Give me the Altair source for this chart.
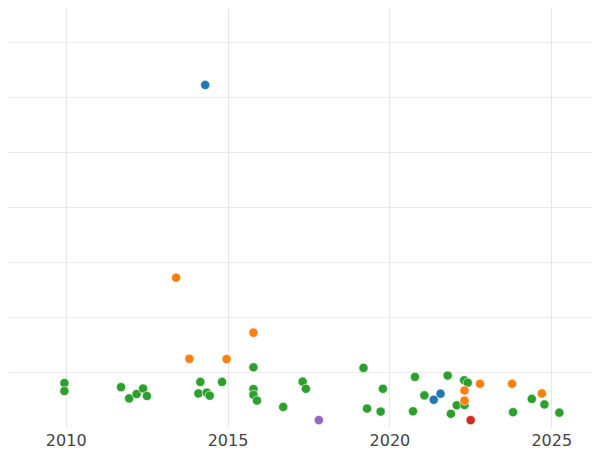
import altair as alt
import pandas as pd

# Year (x) and value (y) for each point, with its group
green_years = [2009.96, 2009.96, 2011.71, 2011.96, 2012.19, 2012.39, 2012.51,
               2014.16, 2014.10, 2014.36, 2014.45, 2014.83, 2015.80, 2015.80,
               2015.80, 2015.91, 2016.72, 2017.32, 2017.42, 2019.20, 2019.31,
               2019.73, 2019.80, 2020.79, 2020.73, 2021.08, 2021.80, 2022.31,
               2022.42, 2022.08, 2022.32, 2021.90, 2023.82, 2024.40, 2024.79,
               2025.25]
green_values = [16.0, 13.1, 14.5, 10.4, 12.0, 14.0, 11.3,
                16.4, 12.2, 12.5, 11.4, 16.4, 21.7, 13.8,
                11.7, 9.6, 7.3, 16.5, 13.9, 21.5, 6.7,
                5.6, 13.9, 18.2, 5.7, 11.5, 18.7, 17.0,
                16.1, 7.9, 8.0, 4.8, 5.4, 10.2, 8.2,
                5.2]

orange_years = [2013.41, 2013.82, 2014.97, 2015.80, 2022.80, 2022.32, 2022.32,
                2023.79, 2024.71]
orange_values = [54.3, 24.8, 24.7, 34.3, 15.7, 13.3, 9.6, 15.7, 12.2]

blue_years = [2014.31, 2021.58, 2021.37]
blue_values = [124.4, 12.1, 9.9]

red_years = [2022.51]
red_values = [2.5]

purple_years = [2017.82]
purple_values = [2.5]

groups = ["blue", "orange", "green", "red", "purple"]
group_colors = ["#1f77b4", "#ff7f0e", "#2ca02c", "#d62728", "#9467bd"]

x_ticks = [2010, 2015, 2020, 2025]
y_grid = [20, 40, 60, 80, 100, 120, 140]

rows = []
for name, ys, vs in [("green", green_years, green_values),
                     ("orange", orange_years, orange_values),
                     ("blue", blue_years, blue_values),
                     ("red", red_years, red_values),
                     ("purple", purple_years, purple_values)]:
    for yr, v in zip(ys, vs):
        rows.append({"year": yr, "value": v, "group": name})
df = pd.DataFrame(rows)

chart = alt.Chart(df).mark_circle(
    size=85, opacity=1, stroke="white", strokeWidth=0.6
).encode(
    x=alt.X("year:Q",
            scale=alt.Scale(domain=[2008.2175, 2026.259], nice=False, zero=False),
            axis=alt.Axis(values=x_ticks, format="d", title=None, ticks=False,
                          tickSize=0, domain=False, labelFontSize=16,
                          labelColor="#444444", labelFont="DejaVu Sans",
                          labelPadding=5, gridColor="#e8e8e8", gridWidth=1.2)),
    y=alt.Y("value:Q",
            scale=alt.Scale(domain=[0, 152.4], nice=False, zero=False),
            axis=alt.Axis(values=y_grid, labels=False, ticks=False, domain=False,
                          title=None, gridColor="#ebebeb", gridWidth=1)),
    color=alt.Color("group:N", scale=alt.Scale(domain=groups, range=group_colors),
                    legend=None),
).properties(
    width=584, height=419, padding=0
).configure_view(stroke=None)

chart.save("out.html", embed_options={"renderer": "svg", "actions": False})
